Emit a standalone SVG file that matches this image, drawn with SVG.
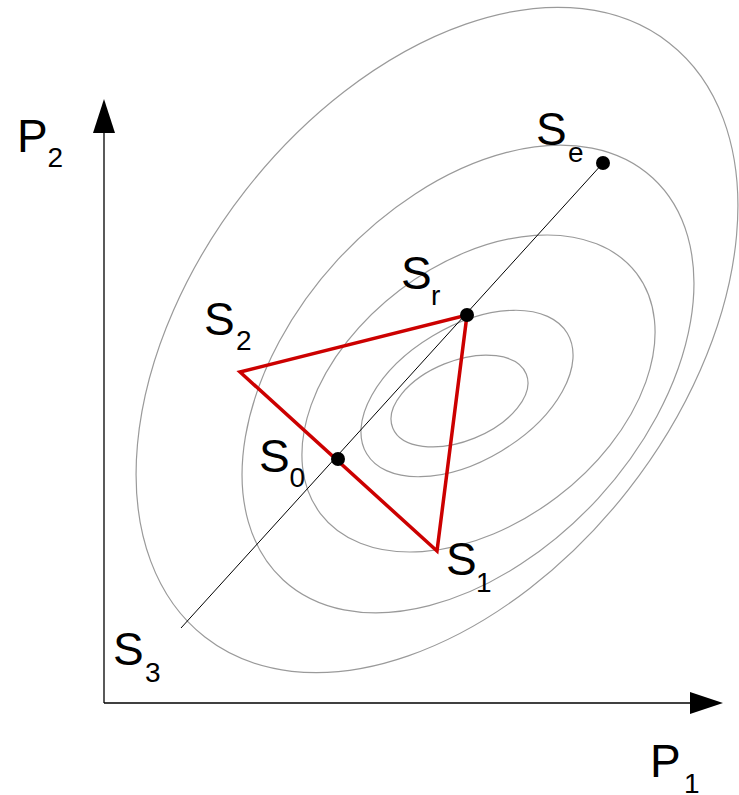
<svg xmlns="http://www.w3.org/2000/svg" width="739" height="795" viewBox="0 0 739 795">
<style>
.contour{fill:none;stroke:#9a9a9a;stroke-width:1.2}
.axis{fill:none;stroke:#000;stroke-width:1.3}
.path{fill:none;stroke:#000;stroke-width:1}
.tri{fill:none;stroke:#cc0000;stroke-width:3.5;stroke-linejoin:miter}
.dot{fill:#000}
.lab{font-family:"Liberation Sans",Arial,sans-serif;font-size:46px;fill:#000}
.sub{font-family:"Liberation Sans",Arial,sans-serif;font-size:28px;fill:#000}
</style>
<g id="contours">
<ellipse class="contour" cx="459.5" cy="401" rx="72" ry="40" transform="rotate(-22 459.5 401)"/>
<ellipse class="contour" cx="467" cy="393.5" rx="117" ry="67" transform="rotate(-31 467 393.5)"/>
<ellipse class="contour" cx="478.5" cy="393.5" rx="198.5" ry="130" transform="rotate(-37.2 478.5 393.5)"/>
<ellipse class="contour" cx="468" cy="379" rx="273" ry="176.6" transform="rotate(-47.4 468 379)"/>
<ellipse class="contour" cx="437" cy="340" rx="377" ry="243" transform="rotate(-52 437 340)"/>
</g>
<g id="axes">
<line class="axis" x1="104" y1="703" x2="104" y2="130"/>
<line class="axis" x1="104" y1="703" x2="692" y2="703"/>
<polygon points="104,99 93,133 115,133" fill="#000"/>
<polygon points="723,703 690,692 690,714" fill="#000"/>
</g>
<g id="connectors">
<line class="path" x1="181" y1="628" x2="603" y2="163"/>
<polygon class="tri" points="240,372 467,315 437,551"/>
</g>
<g id="S0"><circle class="dot" cx="338" cy="459" r="7"/><text class="lab" x="259" y="472">S</text><text class="sub" x="289.5" y="487">0</text></g>
<g id="Sr"><circle class="dot" cx="467" cy="315" r="7"/><text class="lab" x="401" y="289">S</text><text class="sub" x="431" y="305">r</text></g>
<g id="Se"><circle class="dot" cx="603" cy="163" r="7"/><text class="lab" x="536" y="145">S</text><text class="sub" x="568" y="162">e</text></g>
<g id="S1"><text class="lab" x="446" y="575">S</text><text class="sub" x="476" y="592">1</text></g>
<g id="S2"><text class="lab" x="204" y="335">S</text><text class="sub" x="236" y="350">2</text></g>
<g id="S3"><text class="lab" x="113" y="665">S</text><text class="sub" x="145" y="682">3</text></g>
<g id="P1"><text class="lab" x="650" y="777">P</text><text class="sub" x="684" y="793">1</text></g>
<g id="P2"><text class="lab" x="17" y="152">P</text><text class="sub" x="47.5" y="167">2</text></g>
</svg>
